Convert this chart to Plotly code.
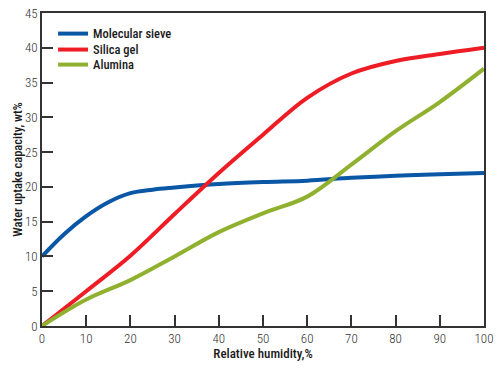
import plotly.graph_objects as go

humidity_blue = [0, 5, 10, 15, 20, 25, 30, 40, 50, 60, 70, 80, 90, 100]
molecular_sieve = [10, 13.2, 15.8, 17.8, 19.1, 19.6, 19.9, 20.4, 20.7, 20.9, 21.3, 21.6, 21.8, 22]

humidity = [0, 10, 20, 30, 40, 50, 60, 70, 80, 90, 100]
silica_gel = [0, 5, 10.1, 16.1, 22, 27.5, 32.8, 36.3, 38.1, 39.1, 40]
alumina = [0, 3.8, 6.6, 10, 13.5, 16.2, 18.6, 23.2, 28, 32.2, 37]

x_ticks = [0, 10, 20, 30, 40, 50, 60, 70, 80, 90, 100]
y_ticks = [0, 5, 10, 15, 20, 25, 30, 35, 40, 45]

FONT = "Roboto Condensed, DejaVu Sans Condensed, sans-serif"

fig = go.Figure()
fig.add_trace(go.Scatter(x=humidity_blue, y=molecular_sieve, mode="lines", name="Molecular sieve",
                         legend="legend",
                         line=dict(color="#0a57a6", width=4, shape="spline", smoothing=1.0)))
fig.add_trace(go.Scatter(x=humidity, y=silica_gel, mode="lines", name="Silica gel",
                         legend="legend2",
                         line=dict(color="#ee1d25", width=4, shape="spline", smoothing=1.0)))
fig.add_trace(go.Scatter(x=humidity, y=alumina, mode="lines", name="Alumina",
                         legend="legend3",
                         line=dict(color="#8fb12f", width=4, shape="spline", smoothing=1.0)))

leg_font = dict(family=FONT, size=12.5, color="#1a1a1a", weight=500)
def leg(y):
    return dict(x=0.025, y=y, xanchor="left", yanchor="middle", bgcolor="rgba(0,0,0,0)",
                itemwidth=30, font=leg_font)

fig.update_layout(
    width=500, height=369,
    margin=dict(l=42, r=16, t=13, b=43),
    paper_bgcolor="white", plot_bgcolor="white",
    font=dict(family=FONT, color="#222", size=13),
    showlegend=True,
    legend=leg(0.933), legend2=leg(0.882), legend3=leg(0.834),
)
fig.update_xaxes(range=[0, 100], tickvals=x_ticks, ticks="inside", ticklen=11, tickwidth=1.5,
                 tickcolor="#333", showline=True, linecolor="#333", linewidth=1.5, mirror=True,
                 showgrid=False, zeroline=False, automargin=False, ticklabeloverflow="allow",
                 tickfont=dict(size=13, color="#333", weight=300),
                 title=dict(text="Relative humidity,%", font=dict(size=13, color="#1a1a1a", weight=500), standoff=3))
fig.update_yaxes(range=[0, 45], tickvals=y_ticks, ticks="inside", ticklen=11, tickwidth=1.5,
                 tickcolor="#333", showline=True, linecolor="#333", linewidth=1.5, mirror=True,
                 showgrid=False, zeroline=False, automargin=False, ticklabeloverflow="allow",
                 tickfont=dict(size=13, color="#333", weight=300),
                 title=dict(text="Water uptake capacity, wt%", font=dict(size=12.5, color="#1a1a1a", weight=500), standoff=0))

fig.write_html("out.html", config={"displayModeBar": False},
               post_script="document.body.style.margin='0';")
